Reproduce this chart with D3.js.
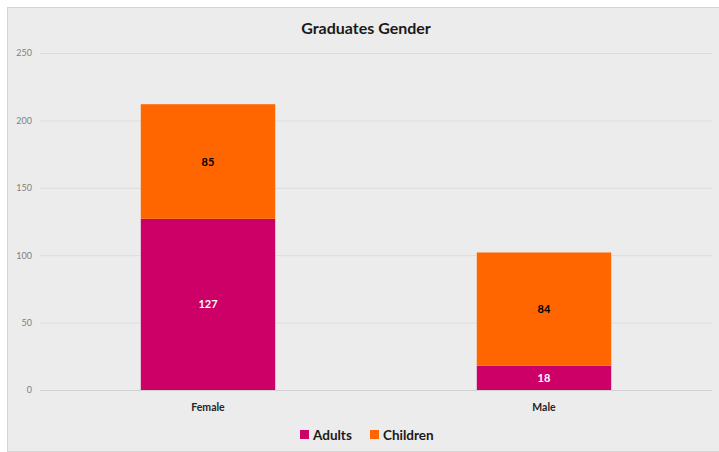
<!DOCTYPE html>
<html><head><meta charset="utf-8">
<script src="https://cdn.jsdelivr.net/npm/d3@7"></script>
<style>body{margin:0;background:#fff}svg{display:block}</style>
</head><body><svg id="c" width="719" height="452"></svg>
<script>
const categories = ["Female", "Male"];
const adults = [127, 18];
const children = [85, 84];
const seriesNames = ["Adults", "Children"];
const yTicks = [0, 50, 100, 150, 200, 250];
const colors = ["#cc0066", "#ff6600"];
const labelColors = ["#ffffff", "#000000"];

const svg = d3.select("#c");
const font = "Lato, 'Open Sans', sans-serif";
svg.append("rect").attr("x", 7.5).attr("y", 7.5).attr("width", 712).attr("height", 444)
  .attr("fill", "#ececec").attr("stroke", "#d4d4d4");

const x = d3.scaleBand().domain(categories).range([40, 712]).padding(0);
const y = d3.scaleLinear().domain([0, 250]).range([390, 53]);

const yAxis = d3.axisLeft(y).tickValues(yTicks).tickSize(0).tickPadding(8);
const gy = svg.append("g").attr("transform", "translate(40,0)").call(yAxis);
gy.select(".domain").remove();
gy.selectAll("text").attr("font-family", font).attr("font-size", 9).attr("fill", "#808080");
svg.append("g").selectAll("line").data(yTicks).join("line")
  .attr("x1", 40).attr("x2", 712).attr("y1", d => y(d) + 0.5).attr("y2", d => y(d) + 0.5)
  .attr("stroke", d => d === 0 ? "#d0d0d0" : "#dcdcdc").attr("stroke-width", 1);

const stackData = categories.map((c, i) => ({cat: c, Adults: adults[i], Children: children[i]}));
const stack = d3.stack().keys(seriesNames)(stackData);
const bw = x.bandwidth() * 0.4;
stack.forEach((s, si) => {
  const g = svg.append("g");
  g.selectAll("rect").data(s).join("rect")
    .attr("x", d => x(d.data.cat) + (x.bandwidth() - bw) / 2)
    .attr("width", bw)
    .attr("y", d => y(d[1]))
    .attr("height", d => y(d[0]) - y(d[1]))
    .attr("fill", colors[si]);
  g.selectAll("text").data(s).join("text")
    .attr("x", d => x(d.data.cat) + x.bandwidth() / 2)
    .attr("y", d => (y(d[0]) + y(d[1])) / 2 + 4)
    .attr("text-anchor", "middle")
    .attr("font-family", font).attr("font-weight", "bold").attr("font-size", 11)
    .attr("fill", labelColors[si])
    .text(d => d[1] - d[0]);
});

const gx = svg.append("g").attr("transform", "translate(0,390)")
  .call(d3.axisBottom(x).tickSize(0).tickPadding(14));
gx.select(".domain").remove();
gx.selectAll("text").attr("font-family", font).attr("font-weight", "bold").attr("font-size", 10.5).attr("fill", "#262626");

svg.append("text").attr("x", 366).attr("y", 34).attr("text-anchor", "middle")
  .attr("font-family", font).attr("font-weight", "bold").attr("font-size", 16).attr("fill", "#1a1a1a")
  .text("Graduates Gender");

const legendX = [300, 370];
const lg = svg.append("g").selectAll("g").data(seriesNames).join("g")
  .attr("transform", (d, i) => `translate(${legendX[i]},430)`);
lg.append("rect").attr("width", 9).attr("height", 9).attr("fill", (d, i) => colors[i]);
lg.append("text").attr("x", 13).attr("y", 9.5).attr("font-family", font).attr("font-weight", "bold")
  .attr("font-size", 13.5).attr("fill", "#1a1a1a").text(d => d);
</script></body></html>
